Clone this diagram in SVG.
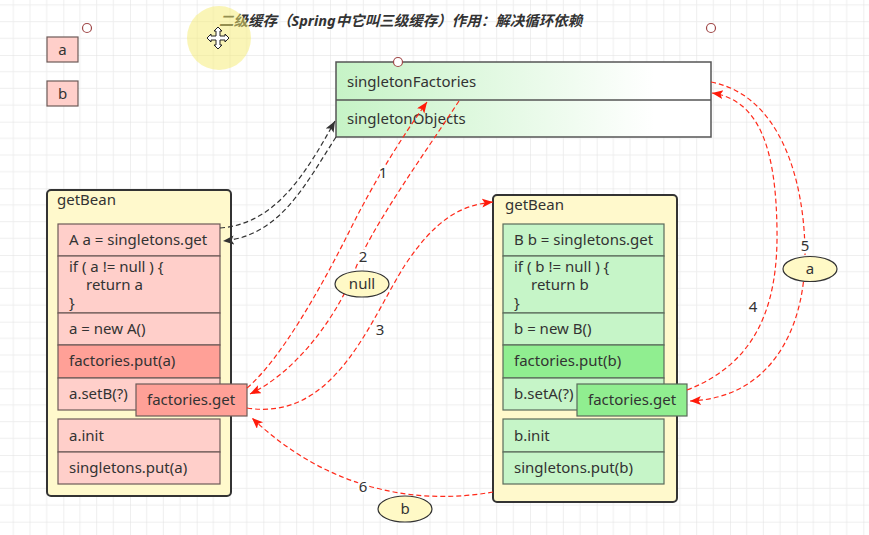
<svg xmlns="http://www.w3.org/2000/svg" width="869" height="535" viewBox="0 0 869 535">
<defs>
<pattern id="grid" width="66.667" height="66.667" patternUnits="userSpaceOnUse" x="-3.333" y="-11.667">
<path d="M16.667,0V66.667M33.333,0V66.667M50,0V66.667M0,16.667H66.667M0,33.333H66.667M0,50H66.667" stroke="#eeeeee" stroke-width="1" fill="none"/>
<path d="M0,0V66.667M0,0H66.667" stroke="#e0e0e0" stroke-width="1" fill="none"/>
</pattern>
<linearGradient id="gFill" x1="0" y1="0" x2="1" y2="0">
<stop offset="0" stop-color="#c6f3c6"/>
<stop offset="0.85" stop-color="#ffffff"/>
<stop offset="1" stop-color="#ffffff"/>
</linearGradient>
<marker id="arR" markerWidth="12" markerHeight="10" refX="11" refY="4.5" orient="auto" markerUnits="userSpaceOnUse">
<path d="M0,0 L11,4.5 L0,9 L2.5,4.5 z" fill="#ff1a0a"/>
</marker>
<marker id="arK" markerWidth="12" markerHeight="10" refX="11" refY="4.5" orient="auto" markerUnits="userSpaceOnUse">
<path d="M0,0 L11,4.5 L0,9 L2.5,4.5 z" fill="#333"/>
</marker>
<style>
text{font-family:"Noto Sans","Noto Sans CJK SC",sans-serif;font-size:15px;fill:#333}
.cont{fill:#fff9cc;stroke:#333;stroke-width:2}
.pk{fill:#ffcfca;stroke:#6d5a58;stroke-width:1.2}
.pk2{fill:#ffa097;stroke:#6d5a58;stroke-width:1.2}
.gn{fill:#c6f5c8;stroke:#5a6a5a;stroke-width:1.2}
.gn2{fill:#90ee90;stroke:#5a6a5a;stroke-width:1.2}
.ell{fill:#fff9c6;stroke:#333;stroke-width:1.2}
.handle{fill:#fff;stroke:#a04848;stroke-width:1.2}
.red{fill:none;stroke:#ff2a1a;stroke-width:1.2;stroke-dasharray:5 3;marker-end:url(#arR)}
.blk{fill:none;stroke:#333;stroke-width:1.2;stroke-dasharray:5 3;marker-end:url(#arK)}
.num{paint-order:stroke;stroke:#fff;stroke-width:5px;stroke-linejoin:round}
</style>
</defs>
<rect width="869" height="535" fill="#fff"/>
<rect width="869" height="535" fill="url(#grid)"/>

<g id="legend-a"><rect x="47" y="37" width="31" height="25" class="pk"/><text x="62.5" y="55" text-anchor="middle">a</text></g>
<g id="legend-b"><rect x="47" y="81" width="31" height="25" class="pk"/><text x="62.5" y="99" text-anchor="middle">b</text></g>

<g id="handles">
<circle cx="87" cy="28" r="4.5" class="handle"/>
<circle cx="711" cy="28" r="4.5" class="handle"/>
</g>

<g id="title"><text x="219" y="26" font-weight="bold" font-style="italic" style="font-size:14.5px">二级缓存（Spring中它叫三级缓存）作用：解决循环依赖</text></g>

<g id="cache">
<rect x="336" y="62" width="375" height="75" fill="url(#gFill)" stroke="#555" stroke-width="1.5"/>
<line x1="336" y1="100" x2="711" y2="100" stroke="#555" stroke-width="1.5"/>
<text x="347" y="87">singletonFactories</text>
<text x="347" y="124">singletonObjects</text>
<circle cx="398" cy="62" r="4.5" class="handle"/>
</g>

<g id="getBeanA">
<rect x="47" y="190" width="184" height="306" rx="4" class="cont"/>
<text x="57" y="205">getBean</text>
<rect x="58" y="224" width="162" height="32" class="pk"/>
<text x="69" y="245">A a = singletons.get</text>
<rect x="58" y="256" width="162" height="57" class="pk"/>
<text x="69" y="272">if ( a != null ) {<tspan x="86" y="290">return a</tspan><tspan x="69" y="308">}</tspan></text>
<rect x="58" y="313" width="162" height="32" class="pk"/>
<text x="69" y="334">a = new A()</text>
<rect x="58" y="345" width="162" height="33" class="pk2"/>
<text x="69" y="366">factories.put(a)</text>
<rect x="58" y="378" width="162" height="32" class="pk"/>
<text x="69" y="399">a.setB(?)</text>
<rect x="58" y="419" width="162" height="33" class="pk"/>
<text x="69" y="441">a.init</text>
<rect x="58" y="452" width="162" height="32" class="pk"/>
<text x="69" y="473">singletons.put(a)</text>
</g>
<g id="factoriesGetA">
<rect x="136" y="384" width="111" height="32" class="pk2"/>
<text x="147" y="405">factories.get</text>
</g>

<g id="getBeanB">
<rect x="493" y="195" width="184" height="307" rx="4" class="cont"/>
<text x="505" y="210">getBean</text>
<rect x="503" y="224" width="161" height="32" class="gn"/>
<text x="514" y="245">B b = singletons.get</text>
<rect x="503" y="256" width="161" height="57" class="gn"/>
<text x="514" y="272">if ( b != null ) {<tspan x="531" y="290">return b</tspan><tspan x="514" y="308">}</tspan></text>
<rect x="503" y="313" width="161" height="32" class="gn"/>
<text x="514" y="334">b = new B()</text>
<rect x="503" y="345" width="161" height="33" class="gn2"/>
<text x="514" y="366">factories.put(b)</text>
<rect x="503" y="378" width="161" height="32" class="gn"/>
<text x="514" y="399">b.setA(?)</text>
<rect x="503" y="419" width="161" height="33" class="gn"/>
<text x="514" y="441">b.init</text>
<rect x="503" y="452" width="161" height="32" class="gn"/>
<text x="514" y="473">singletons.put(b)</text>
</g>
<g id="factoriesGetB">
<rect x="577" y="384" width="110" height="32" class="gn2"/>
<text x="588" y="405">factories.get</text>
</g>

<g id="connectors">
<path class="blk" d="M220,228 C275,224 305,175 335,121"/>
<path class="blk" d="M336,137 C305,185 280,236 223,241"/>
<path class="red" d="M247,388 C280,360 320,290 350,230 C375,180 400,140 427,102"/>
<path class="red" d="M459,101 C420,160 370,230 355,270 C340,310 300,370 250,394"/>
<path class="red" d="M247,408 C335,422 370,320 405,265 C435,220 460,205 493,202"/>
<path class="red" d="M493,492 C420,505 330,492 252,418"/>
<path class="red" d="M687,390 C760,362 778,300 777,230 C776,150 760,100 712,93"/>
<path class="red" d="M711,82 C780,95 805,180 805,255 C805,330 770,398 690,401"/>
<text class="num" x="383" y="178" text-anchor="middle">1</text>
<text class="num" x="363" y="262" text-anchor="middle">2</text>
<text class="num" x="380" y="335" text-anchor="middle">3</text>
<text class="num" x="753" y="312" text-anchor="middle">4</text>
<text class="num" x="805" y="251" text-anchor="middle">5</text>
<text class="num" x="363" y="492" text-anchor="middle">6</text>
</g>

<g id="val-null"><ellipse cx="362" cy="284" rx="27" ry="13" class="ell"/><text x="362" y="289" text-anchor="middle">null</text></g>
<g id="val-a"><ellipse cx="810" cy="269" rx="27" ry="12.5" class="ell"/><text x="810" y="274" text-anchor="middle">a</text></g>
<g id="val-b"><ellipse cx="405" cy="509" rx="27" ry="13" class="ell"/><text x="405" y="514" text-anchor="middle">b</text></g>

<g id="cursor-highlight">
<circle cx="219" cy="38" r="32" fill="#f5ec70" fill-opacity="0.5"/>
<path d="M218,27 L222,31 L220,31 L220,36 L225,36 L225,34 L229,38 L225,42 L225,40 L220,40 L220,45 L222,45 L218,49 L214,45 L216,45 L216,40 L211,40 L211,42 L207,38 L211,34 L211,36 L216,36 L216,31 L214,31 Z" fill="#fff" stroke="#222" stroke-width="1"/>
</g>
</svg>
